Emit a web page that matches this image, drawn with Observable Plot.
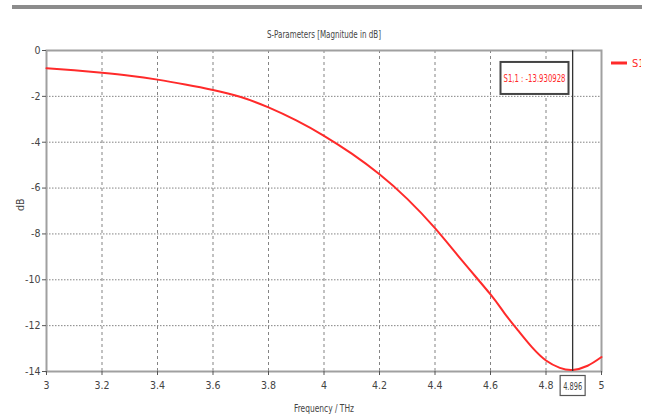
<!DOCTYPE html>
<html>
<head>
<meta charset="utf-8">
<script src="https://cdn.jsdelivr.net/npm/d3@7"></script>
<script src="https://cdn.jsdelivr.net/npm/@observablehq/plot@0.6"></script>
<style>
  html, body { margin: 0; padding: 0; background: #fff; }
  #wrap { position: relative; width: 650px; height: 416px; overflow: hidden; }
  #topbar { position: absolute; left: 12px; top: 5px; width: 630px; height: 4px; background: #8c8c8c; }
  #edge { position: absolute; left: 641px; top: 40px; width: 9px; height: 40px; background: #fff; }
  svg { display: block; }
</style>
</head>
<body>
<div id="wrap"><div id="topbar"></div></div>
<script>
const titleText = "S-Parameters [Magnitude in dB]";
const xLabel = "Frequency / THz";
const yLabel = "dB";
const seriesName = "S1,1";
const freq = [3.0, 3.1, 3.2, 3.3, 3.4, 3.5, 3.6, 3.7, 3.8, 3.9, 4.0, 4.1, 4.2, 4.3, 4.4, 4.5, 4.6, 4.65, 4.7, 4.75, 4.8, 4.85, 4.896, 4.95, 5.0];
const s11 = [-0.77, -0.86, -0.97, -1.1, -1.27, -1.48, -1.72, -2.03, -2.48, -3.05, -3.72, -4.5, -5.4, -6.47, -7.75, -9.2, -10.64, -11.45, -12.22, -12.95, -13.52, -13.84, -13.93, -13.75, -13.37];
const xTicks = [3, 3.2, 3.4, 3.6, 3.8, 4, 4.2, 4.4, 4.6, 4.8, 5];
const yTicks = [0, -2, -4, -6, -8, -10, -12, -14];
const markerX = 4.896;
const markerVal = "-13.930928";

const data = freq.map((f, i) => ({f, v: s11[i]}));
const font = "'Liberation Sans Narrow', 'DejaVu Sans Condensed', 'Roboto Condensed', 'Liberation Sans', sans-serif";
const markerLabel = `${seriesName} : ${markerVal}`;

const chart = Plot.plot({
  width: 650,
  height: 416,
  marginLeft: 46,
  marginRight: 49,
  marginTop: 50,
  marginBottom: 45,
  style: {fontFamily: font, fontSize: "10.5px", color: "#444", background: "transparent", overflow: "visible"},
  x: {domain: [3, 5], label: null},
  y: {domain: [-14, 0], label: null},
  marks: [
    Plot.gridX(xTicks.slice(1, -1), {stroke: "#777", strokeOpacity: 0.9, strokeDasharray: "3,3"}),
    Plot.gridY(yTicks.slice(1, -1), {stroke: "#777", strokeOpacity: 0.9, strokeDasharray: "1.5,1.5"}),
    Plot.frame({stroke: "#a0a0a0", strokeWidth: 2}),
    Plot.axisX(xTicks, {tickSize: 4, tickPadding: 6, tickFormat: d => String(d), label: null, stroke: "#555"}),
    Plot.axisY(yTicks, {tickSize: 4, tickPadding: 2, tickFormat: d => String(d), label: null, stroke: "#555"}),
    Plot.line(data, {x: "f", y: "v", stroke: "#ff2a2a", strokeWidth: 2, curve: "natural"}),
    Plot.ruleX([markerX], {stroke: "#333", strokeWidth: 1.3}),
    Plot.text([markerX], {x: d => d, frameAnchor: "bottom", dy: 18, text: d => String(d), fill: "#444"}),
    Plot.text([markerLabel], {frameAnchor: "top-right", textAnchor: "middle", dx: -67, dy: 24, fill: "#ff2a2a", fontSize: 10.5}),
    Plot.text([titleText], {frameAnchor: "top", dy: -20, fill: "#444", fontSize: 11}),
    Plot.text([yLabel], {frameAnchor: "left", dx: -26, rotate: -90, fill: "#444"}),
    Plot.text([xLabel], {frameAnchor: "bottom", dy: 40, fill: "#444"})
  ]
});

const wrap = document.getElementById("wrap");
wrap.appendChild(chart);

const svg = d3.select(chart);
function findText(label) {
  return svg.selectAll("text").filter(function() { return this.textContent === label; });
}
function squeeze(label, len) {
  findText(label).attr("textLength", len).attr("lengthAdjust", "spacingAndGlyphs");
}
squeeze(titleText, 114);
squeeze(xLabel, 60);
squeeze(markerLabel, 62);
squeeze(String(markerX), 19);

function boxAround(label, pad, stroke, sw) {
  findText(label).each(function() {
    const b = this.getBBox();
    const t = this.getAttribute("transform");
    const r = d3.select(this.parentNode).insert("rect", () => this)
      .attr("x", b.x - pad[0]).attr("y", b.y - pad[1])
      .attr("width", b.width + 2 * pad[0]).attr("height", b.height + 2 * pad[1])
      .attr("fill", "#fff").attr("stroke", stroke).attr("stroke-width", sw);
    if (t) r.attr("transform", t);
  });
}
boxAround(String(markerX), [3, 4], "#555", 1.2);
boxAround(markerLabel, [3, 10], "#444", 2);

// legend outside the frame on the right; its tail is hidden by the panel edge
const leg = svg.append("g");
leg.append("line").attr("x1", 611).attr("x2", 627).attr("y1", 63).attr("y2", 63)
  .attr("stroke", "#ff2a2a").attr("stroke-width", 3);
leg.append("text").attr("x", 632).attr("y", 63).attr("dy", "0.35em").attr("text-anchor", "start")
  .attr("fill", "#ff2a2a").attr("font-family", font).attr("font-size", 11).text(seriesName);
const edge = document.createElement("div");
edge.id = "edge";
wrap.appendChild(edge);
</script>
</body>
</html>
